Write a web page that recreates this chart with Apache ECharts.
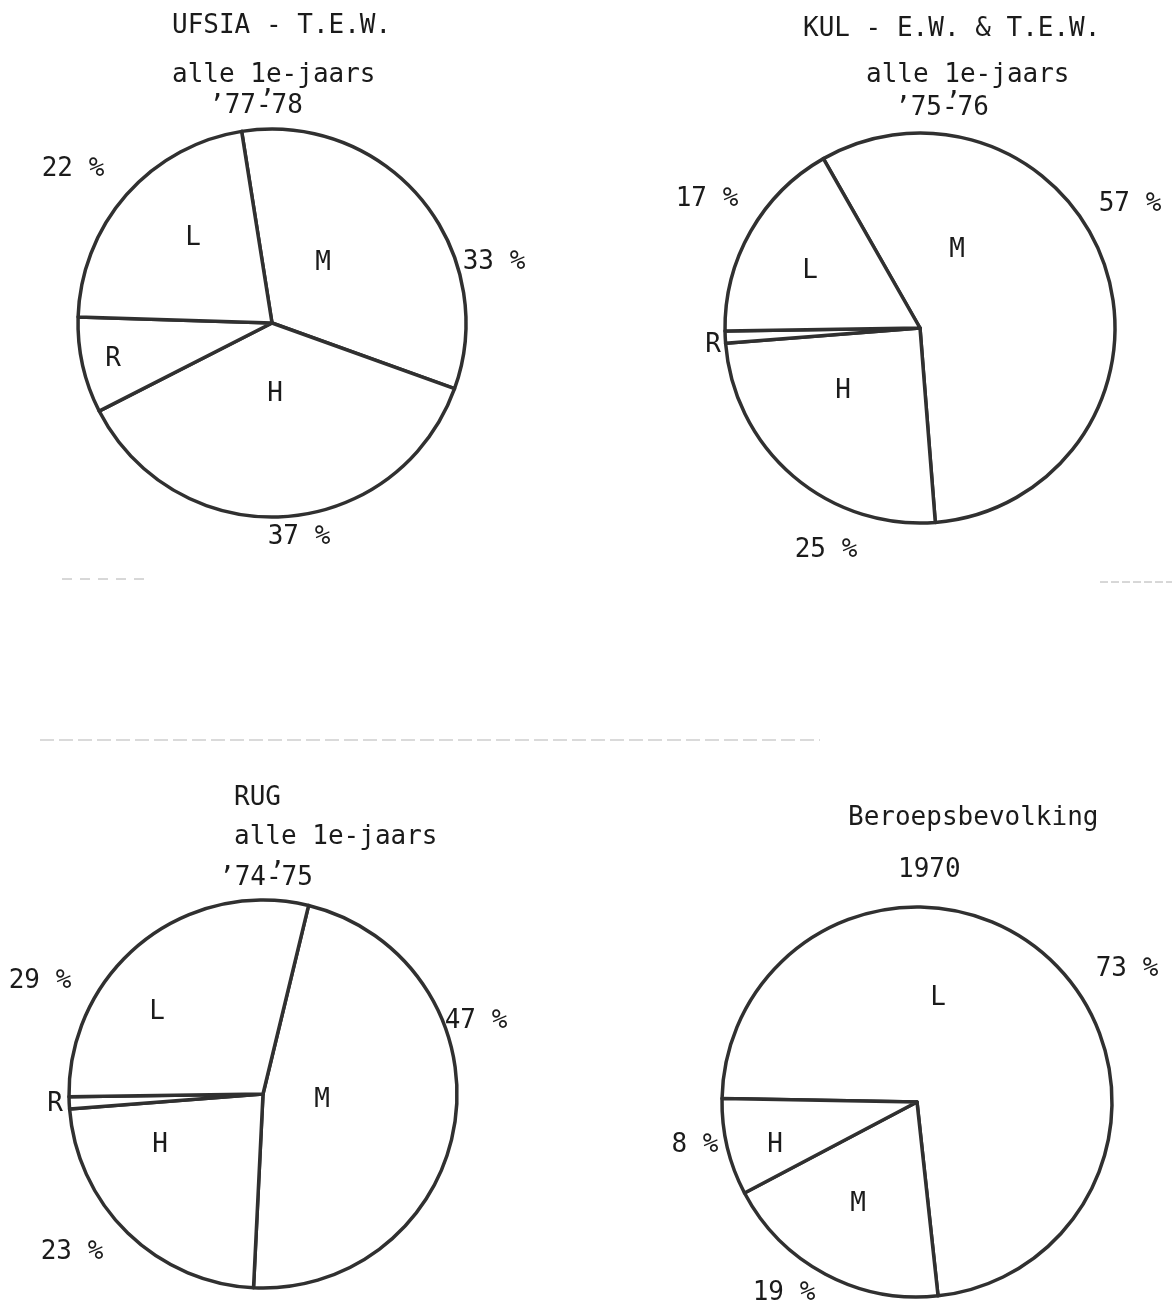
<!DOCTYPE html>
<html>
<head>
<meta charset="utf-8">
<script src="https://cdn.jsdelivr.net/npm/echarts@6/dist/echarts.min.js"></script>
<style>
  html, body { margin: 0; padding: 0; background: #ffffff; }
  #chart { width: 1172px; height: 1307px; }
</style>
</head>
<body>
<div id="chart"></div>
<script>
// Social class shares (%) of first-year students and of the working population.
// L = laag, M = midden, H = hoog, R = rest (not labelled)
const ufsiaNames  = ['M', 'H', 'R', 'L'];
const ufsiaValues = [33, 37, 8, 22];

const kulNames  = ['M', 'H', 'R', 'L'];
const kulValues = [57, 25, 1, 17];

const rugNames  = ['M', 'H', 'R', 'L'];
const rugValues = [47, 23, 1, 29];

const beroepNames  = ['L', 'M', 'H'];
const beroepValues = [73, 19, 8];

// Slices that carry a percentage next to the circle
const labelledClasses = ['L', 'M', 'H'];

// Title lines of each panel
const ufsiaTitle  = ['UFSIA - T.E.W.', 'alle 1e-jaars', '’77-78'];
const kulTitle    = ['KUL - E.W. & T.E.W.', 'alle 1e-jaars', '’75-76'];
const rugTitle    = ['RUG', 'alle 1e-jaars', '’74-75'];
const beroepTitle = ['Beroepsbevolking', '1970'];

// ---- layout of the four panels ----
const FONT = '26px "DejaVu Sans Mono", "Liberation Mono", monospace';
const INK = '#1b1b1b';
const LINE = '#303030';
const DY = 2; // optical shift so cap centres sit on the given y

const panels = [
  {
    names: ufsiaNames, values: ufsiaValues, title: ufsiaTitle,
    center: [272, 323], radius: 194, startAngle: 99,
    titlePos: [[172, 24], [172, 73], [209, 104]], yearMark: [267, 99],
    letterPos: { M: [323, 261], H: [275, 392], R: [113, 357], L: [193, 236] },
    pctPos: { L: [73, 167], M: [494, 260], H: [299, 535] }
  },
  {
    names: kulNames, values: kulValues, title: kulTitle,
    center: [920, 328], radius: 195, startAngle: 119.7,
    titlePos: [[803, 27], [866, 73], [895, 106]], yearMark: [953, 101],
    letterPos: { M: [957, 248], H: [843, 389], R: [713, 343], L: [810, 269] },
    pctPos: { L: [707, 197], M: [1130, 202], H: [826, 548] }
  },
  {
    names: rugNames, values: rugValues, title: rugTitle,
    center: [263, 1094], radius: 194, startAngle: 76.4,
    titlePos: [[234, 796], [234, 835], [219, 876]], yearMark: [277, 871],
    letterPos: { M: [322, 1098], H: [160, 1143], R: [55, 1102], L: [157, 1010] },
    pctPos: { L: [40, 979], M: [476, 1019], H: [72, 1250] }
  },
  {
    names: beroepNames, values: beroepValues, title: beroepTitle,
    center: [917, 1102], radius: 195, startAngle: 179,
    titlePos: [[848, 816], [898, 868]], yearMark: null,
    letterPos: { L: [938, 996], H: [775, 1143], M: [858, 1202] },
    pctPos: { L: [1127, 967], H: [695, 1143], M: [784, 1291] }
  }
];

function textEl(str, x, y, align) {
  return {
    type: 'text', silent: true, z: 10,
    style: {
      text: str, x: x, y: y + DY, font: FONT, fill: INK,
      align: align, verticalAlign: 'middle',
      textAlign: align, textVerticalAlign: 'middle'
    }
  };
}

const series = [];
const graphics = [];

panels.forEach(function (p) {
  series.push({
    type: 'pie',
    center: p.center,
    radius: p.radius,
    startAngle: p.startAngle,
    clockwise: true,
    silent: true,
    animation: false,
    avoidLabelOverlap: false,
    label: { show: false },
    labelLine: { show: false },
    itemStyle: { color: '#ffffff', borderColor: LINE, borderWidth: 3.5, borderJoin: 'round' },
    emphasis: { disabled: true },
    data: p.names.map(function (n, i) { return { name: n, value: p.values[i] }; })
  });

  // titles
  p.title.forEach(function (line, i) {
    graphics.push(textEl(line, p.titlePos[i][0], p.titlePos[i][1], 'left'));
  });
  if (p.yearMark) {
    graphics.push(textEl('’', p.yearMark[0], p.yearMark[1], 'center'));
  }

  // class letters inside the slices and their percentages outside
  p.names.forEach(function (n, i) {
    const lp = p.letterPos[n];
    graphics.push(textEl(n, lp[0], lp[1], 'center'));
    if (labelledClasses.indexOf(n) >= 0) {
      const pp = p.pctPos[n];
      graphics.push(textEl(p.values[i] + ' %', pp[0], pp[1], 'center'));
    }
  });
});

// faint dashed rules left on the sheet between the rows
graphics.push({
  type: 'line', silent: true, z: 1,
  shape: { x1: 40, y1: 740, x2: 820, y2: 740 },
  style: { stroke: '#b5b5b5', lineWidth: 1, lineDash: [14, 5] }
});
graphics.push({
  type: 'line', silent: true, z: 1,
  shape: { x1: 62, y1: 579, x2: 150, y2: 579 },
  style: { stroke: '#b0b0b0', lineWidth: 1, lineDash: [10, 8] }
});
graphics.push({
  type: 'line', silent: true, z: 1,
  shape: { x1: 1100, y1: 582, x2: 1172, y2: 582 },
  style: { stroke: '#b0b0b0', lineWidth: 1, lineDash: [8, 3] }
});

const chart = echarts.init(document.getElementById('chart'), null, { renderer: 'canvas' });
chart.setOption({
  backgroundColor: '#ffffff',
  animation: false,
  series: series,
  graphic: graphics
});
</script>
</body>
</html>
